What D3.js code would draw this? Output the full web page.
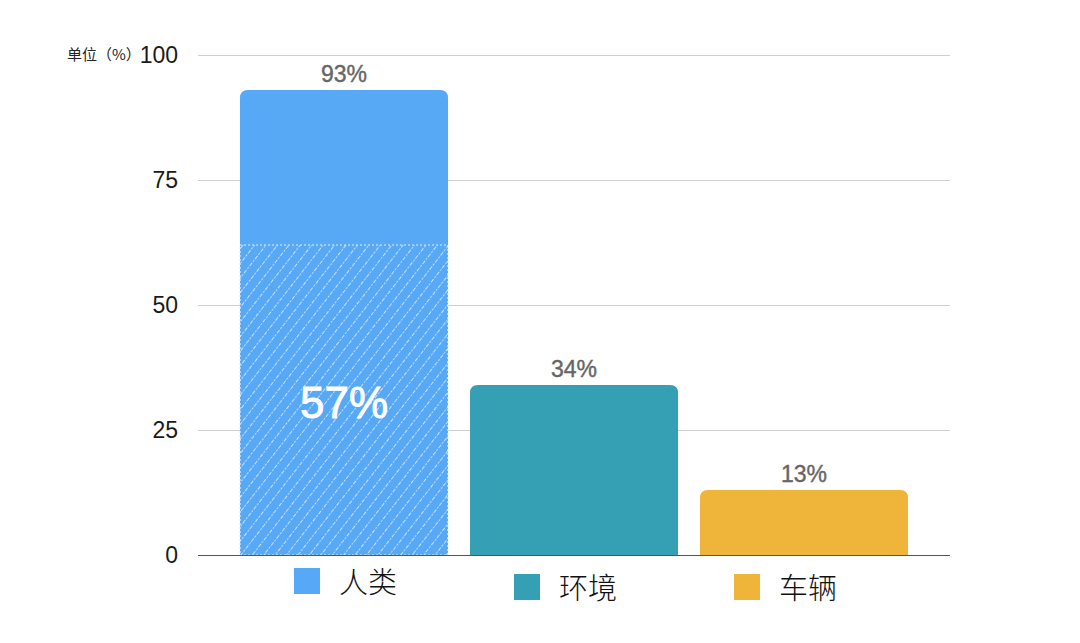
<!DOCTYPE html>
<html>
<head>
<meta charset="utf-8">
<script src="https://cdn.jsdelivr.net/npm/d3@7"></script>
<style>
  body { margin: 0; background: #fff; }
  svg text { font-family: "Liberation Sans", Arial, sans-serif; }
  .cjk { font-family: "Noto Sans CJK SC", sans-serif; }
</style>
</head>
<body>
<div class="chart"></div>
<script>
var categories = ["人类", "环境", "车辆"];
var values = [93, 34, 13];
var colors = ["#58a9f5", "#35a0b4", "#efb53b"];
var hatchValue = 62;        // hatched part of the first bar
var hatchLabel = "57%";
var yTicks = [0, 25, 50, 75, 100];

var width = 1080, height = 643;
var margin = {left: 198, right: 130, top: 55, bottom: 88};

var svg = d3.select(".chart")
  .append("svg")
  .attr("width", width)
  .attr("height", height);

var defs = svg.append("defs");
var pat = defs.append("pattern")
  .attr("id", "hatch")
  .attr("patternUnits", "userSpaceOnUse")
  .attr("width", 9)
  .attr("height", 9)
  .attr("patternTransform", "rotate(38)");
pat.append("rect").attr("width", 9).attr("height", 9).attr("fill", colors[0]);
pat.append("line")
  .attr("x1", 0).attr("y1", 0).attr("x2", 0).attr("y2", 9)
  .attr("stroke", "#e2f0ff")
  .attr("stroke-width", 1.6)
  .attr("stroke-dasharray", "2,1.5");

var y = d3.scaleLinear().domain([0, 100]).range([height - margin.bottom, margin.top]);
var x = d3.scaleBand()
  .domain(categories)
  .range([229, 919])
  .paddingInner(22 / 230)
  .paddingOuter(11 / 230);
var legendX = d3.scalePoint().domain(categories).range([294, 734]);

// gridlines
svg.append("g").selectAll("line")
  .data(yTicks.filter(function(d) { return d > 0; }))
  .enter().append("line")
  .attr("x1", margin.left).attr("x2", width - margin.right)
  .attr("y1", function(d) { return y(d) + 0.5; })
  .attr("y2", function(d) { return y(d) + 0.5; })
  .attr("stroke", "#cfcfcf")
  .attr("stroke-width", 1);

// y tick labels
svg.append("g").selectAll("text")
  .data(yTicks)
  .enter().append("text")
  .attr("x", 178)
  .attr("y", function(d) { return y(d); })
  .attr("dy", "0.36em")
  .attr("text-anchor", "end")
  .attr("font-size", 23)
  .attr("fill", "#1a1a1a")
  .text(function(d) { return d; });

svg.append("text")
  .attr("class", "cjk")
  .attr("x", 67)
  .attr("y", y(100) + 5)
  .attr("font-size", 15)
  .attr("fill", "#222")
  .text("单位（%）");

// bars with rounded tops
var r = 8;
function topRounded(x0, y0, w, h) {
  return "M" + x0 + "," + (y0 + h) +
    "V" + (y0 + r) +
    "Q" + x0 + "," + y0 + " " + (x0 + r) + "," + y0 +
    "H" + (x0 + w - r) +
    "Q" + (x0 + w) + "," + y0 + " " + (x0 + w) + "," + (y0 + r) +
    "V" + (y0 + h) + "Z";
}

svg.append("g").selectAll("path")
  .data(values)
  .enter().append("path")
  .attr("d", function(d, i) {
    return topRounded(x(categories[i]), y(d), x.bandwidth(), y(0) - y(d));
  })
  .attr("fill", function(d, i) { return colors[i]; });

// hatched part of first bar
var hx = x(categories[0]);
svg.append("rect")
  .attr("x", hx)
  .attr("y", y(hatchValue))
  .attr("width", x.bandwidth())
  .attr("height", y(0) - y(hatchValue))
  .attr("fill", "url(#hatch)")
  .attr("stroke", "#e2f0ff")
  .attr("stroke-width", 1.2)
  .attr("stroke-dasharray", "2,2");

svg.append("text")
  .attr("x", hx + x.bandwidth() / 2)
  .attr("y", 418)
  .attr("text-anchor", "middle")
  .attr("font-size", 44)
  .attr("fill", "#fff")
  .attr("stroke", "#fff")
  .attr("stroke-width", 0.8)
  .text(hatchLabel);

// value labels
svg.append("g").selectAll("text")
  .data(values)
  .enter().append("text")
  .attr("x", function(d, i) { return x(categories[i]) + x.bandwidth() / 2; })
  .attr("y", function(d) { return y(d) - 8; })
  .attr("text-anchor", "middle")
  .attr("font-size", 23)
  .attr("fill", "#666")
  .attr("stroke", "#666")
  .attr("stroke-width", 0.4)
  .text(function(d) { return d + "%"; });

// baseline
svg.append("line")
  .attr("x1", margin.left).attr("x2", width - margin.right)
  .attr("y1", y(0) + 0.5).attr("y2", y(0) + 0.5)
  .attr("stroke", "#555")
  .attr("stroke-width", 1);

// legend
var legendY = [568, 574, 574];
var legend = svg.append("g").selectAll("g")
  .data(categories)
  .enter().append("g")
  .attr("transform", function(d, i) {
    return "translate(" + legendX(d) + "," + legendY[i] + ")";
  });
legend.append("rect")
  .attr("width", 26).attr("height", 26)
  .attr("fill", function(d, i) { return colors[i]; });
legend.append("text")
  .attr("class", "cjk")
  .attr("x", 45)
  .attr("y", 25)
  .attr("font-size", 29)
  .attr("font-weight", 300)
  .attr("fill", "#111")
  .text(function(d) { return d; });
</script>
</body>
</html>
